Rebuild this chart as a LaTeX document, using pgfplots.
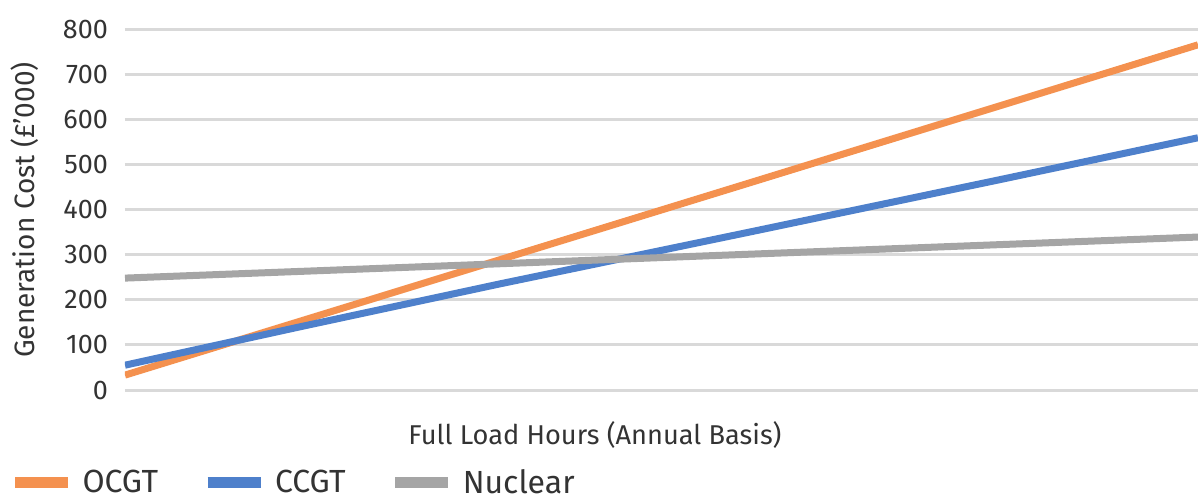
\documentclass[border=0pt]{standalone}
\usepackage{pgfplots}
\pgfplotsset{compat=1.18}
\usepackage{fontspec}
\setmainfont{Fira Sans}

\definecolor{ocgt}{HTML}{F4914F}
\definecolor{ccgt}{HTML}{4E80CB}
\definecolor{nuclear}{HTML}{A5A5A5}
\definecolor{gridgray}{HTML}{D9D9D9}
\definecolor{txt}{HTML}{333333}

\begin{document}
\begin{tikzpicture}
  % page = 1198 x 500 px, 1px = 0.5pt
  \path[use as bounding box] (0,0) rectangle (599pt,250pt);
  \begin{axis}[
      at={(62.5pt,55pt)}, anchor=south west,
      scale only axis,
      width=536.5pt, height=180.5pt,
      xmin=0, xmax=10,
      ymin=0, ymax=800,
      ytick distance=100,
      xtick=\empty,
      axis line style={draw=none},
      major tick style={draw=none},
      ymajorgrids,
      grid style={gridgray, line width=1.5pt},
      yticklabel style={font=\fontsize{13.5}{16}\selectfont, text=txt, xshift=-5pt},
      /pgf/number format/assume math mode=true,
      legend columns=3,
      legend style={
        at={(-0.108,-0.257)}, anchor=west,
        draw=none, fill=none, inner sep=0pt,
        font=\fontsize{16}{18}\selectfont, text=txt,
        nodes={inner xsep=4.5pt},
        /tikz/every even column/.append style={column sep=17.5pt},
      },
      legend image code/.code={\draw[line width=5.5pt] (0pt,0pt) -- (26.5pt,0pt);},
    ]
    % OCGT
    \addplot[ocgt, line width=3.5pt] coordinates {(0,33) (10,765)};
    \addlegendentry{OCGT}
    % CCGT
    \addplot[ccgt, line width=3.5pt] coordinates {
      (0,55) (1.63,140) (3.49,235) (5.82,350) (8.15,466) (10,559)};
    \addlegendentry{CCGT}
    % Nuclear
    \addplot[nuclear, line width=3.5pt] coordinates {(0,248) (10,339)};
    \addlegendentry{Nuclear}
  \end{axis}
  \node[rotate=90, text=txt, font=\fontsize{14}{16}\selectfont] at (12.5pt,145pt) {Generation Cost (£’000)};
  \node[text=txt, font=\fontsize{13.6}{16}\selectfont] at (297.5pt,32.5pt) {Full Load Hours (Annual Basis)};
\end{tikzpicture}
\end{document}
